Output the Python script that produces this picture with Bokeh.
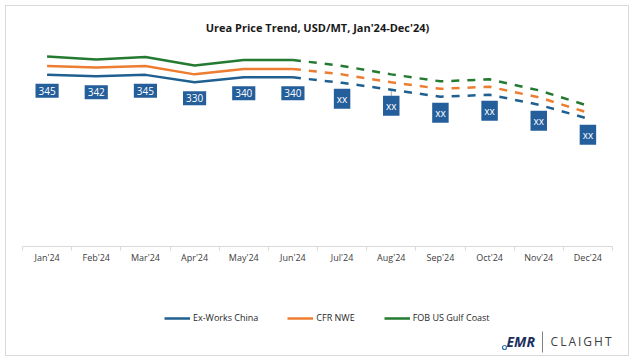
from bokeh.plotting import figure
from bokeh.layouts import column
from bokeh.models import (ColumnDataSource, Legend, LegendItem, FixedTicker,
                          Range1d)
from bokeh.embed import file_html
from bokeh.resources import INLINE
from bokeh.core.properties import value

# ---- data ----
months = ["Jan'24", "Feb'24", "Mar'24", "Apr'24", "May'24", "Jun'24",
          "Jul'24", "Aug'24", "Sep'24", "Oct'24", "Nov'24", "Dec'24"]
ex_works_china = [345, 342, 345, 330, 340, 340, 329, 315, 301, 305, 285, 257]
cfr_nwe = [363, 360, 363, 346, 357, 357, 346, 330, 317, 321, 300, 269]
fob_us_gulf = [382, 376, 381, 364, 375, 375, 363, 346, 332, 336, 314, 283]
label_text = ["345", "342", "345", "330", "340", "340",
              "xx", "xx", "xx", "xx", "xx", "xx"]
n_actual = 6  # Jan-Jun actual, Jul-Dec forecast (dashed)

series_names = ["Ex-Works China", "CFR NWE", "FOB US Gulf Coast"]
series_values = [ex_works_china, cfr_nwe, fob_us_gulf]
series_colors = ["#1F6090", "#ED7D31", "#237A30"]

xs = list(range(1, len(months) + 1))

# ---------------- main chart ----------------
p = figure(width=634, height=270, output_backend="svg", toolbar_location=None,
           x_range=Range1d(0.5, 12.5), y_range=Range1d(0, 400),
           y_axis_location=None,
           min_border_left=22, min_border_right=22, min_border_top=47,
           min_border_bottom=24)
p.grid.visible = False
p.outline_line_color = None
p.background_fill_color = None
p.border_fill_color = None

p.title.text = "Urea Price Trend, USD/MT, Jan'24-Dec'24)"
p.title.align = "center"
p.title.text_font = "Open Sans"
p.title.text_font_size = "11px"
p.title.text_font_style = "bold"
p.title.text_color = "#1a1a1a"
p.title.standoff = 26

ax = p.xaxis[0]
ax.ticker = FixedTicker(ticks=xs, minor_ticks=[i + 0.5 for i in range(0, 13)])
ax.major_label_overrides = {x: m for x, m in zip(xs, months)}
ax.axis_line_color = "#D9D9D9"
ax.major_tick_in = 0
ax.major_tick_out = 0
ax.minor_tick_in = 0
ax.minor_tick_out = 4
ax.minor_tick_line_color = "#D9D9D9"
ax.major_label_text_font = "Open Sans"
ax.major_label_text_font_size = "9px"
ax.major_label_text_color = "#404040"
ax.major_label_standoff = 0

# leader line for the Aug label
p.segment(x0=[xs[7]], y0=[ex_works_china[7]], x1=[xs[7]], y1=[ex_works_china[7] - 14],
          line_color="#A6A6A6", line_width=1)

for vals, color in zip(series_values, series_colors):
    p.line(xs[:n_actual], vals[:n_actual], line_color=color, line_width=2.5)
    p.line(xs[n_actual - 1:], vals[n_actual - 1:], line_color=color, line_width=2.5,
           line_dash="8 8")

src = ColumnDataSource(dict(x=xs, y=ex_works_china, t=label_text))
p.text(x="x", y="y", text="t", source=src, y_offset=16, text_align="center",
       text_baseline="middle", text_color="white", text_font=value("Open Sans"),
       text_font_size="10px", background_fill_color="#245E9B", padding=3)

# ---------------- legend + logo strip ----------------
q = figure(width=634, height=91, output_backend="svg", toolbar_location=None,
           x_range=Range1d(22, 612), y_range=Range1d(91, 0),
           x_axis_location=None, y_axis_location=None,
           min_border_left=22, min_border_right=22, min_border_top=0,
           min_border_bottom=0)
q.grid.visible = False
q.outline_line_color = None
q.background_fill_color = None
q.border_fill_color = None

items = []
for name, vals, color in zip(series_names, series_values, series_colors):
    # series proxy for the legend (its values lie outside this strip's view)
    r = q.line(x=xs, y=vals, line_color=color, line_width=2.5)
    items.append(LegendItem(label=name, renderers=[r]))

legend = Legend(items=items, orientation="horizontal", location=(142, 37),
                glyph_width=26, glyph_height=10, label_standoff=3, spacing=29,
                label_text_font="Open Sans", label_text_font_size="9px",
                label_text_color="#262626", border_line_color=None,
                background_fill_alpha=0, padding=0, margin=0)
q.add_layout(legend)

# logo
q.text(x=[506], y=[71], text=["EMR"], text_font=value("Open Sans"),
       text_font_size="14px", text_font_style="bold italic", text_color="#1B2F5E",
       text_baseline="middle")
q.scatter(x=[504], y=[77], size=4, fill_color=None, line_color="#2E75B6", line_width=1.2)
q.segment(x0=[542], y0=[61], x1=[542], y1=[82], line_color="#808080", line_width=1)
q.text(x=[611], y=[71], text=["C\u2009L\u2009A\u2009I\u2009G\u2009H\u2009T"],
       text_font=value("Open Sans"), text_font_size="12px", text_color="#404040",
       text_baseline="middle", text_align="right")

layout = column(p, q, spacing=0,
                styles={"outline": "1.5px solid #D9D9D9", "outline-offset": "-6.5px",
                        "background-color": "white"})

open("out.html", "w").write(file_html(layout, INLINE))
